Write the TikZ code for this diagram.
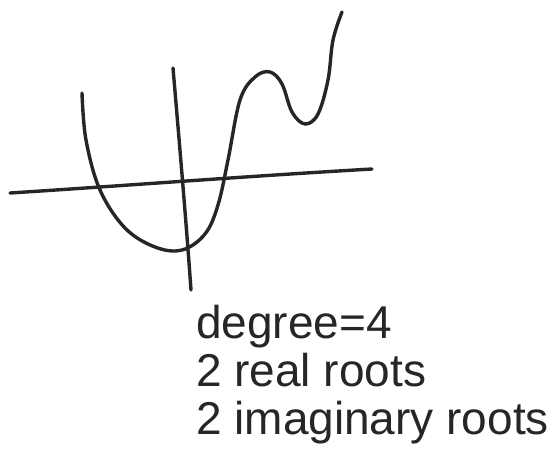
\documentclass[tikz,border=0pt]{standalone}
\usepackage{fontspec}
\setmainfont{Liberation Sans}
\begin{document}
\begin{tikzpicture}[x=1pt,y=-1pt,
  ink/.style={line width=3.4pt,line cap=round,line join=round,black!85},
  label/.style={anchor=base west,inner sep=0pt,font=\fontsize{46}{50}\selectfont,text=black!85}]
\useasboundingbox (0,0) rectangle (557,469);
% axes
\draw[ink] (10,193) .. controls (120,186) and (250,176) .. (372,169);
\draw[ink] (173,68) .. controls (180,150) and (186,220) .. (191,290);
% curve
\draw[ink] plot[smooth,tension=0.6] coordinates {
 (82,93) (86,140) (100,190) (125,228) (155,247) (182,250) (205,234) (218,205)
 (228,160) (240,100) (255,77) (270,72) (282,84) (292,112) (305,124) (318,114)
 (328,80) (333,40) (342,12)};
% text
\node[label] (deg) at (196,338) {degree=4};
\node[label] (real) at (196,386) {2 real roots};
\node[label] (imag) at (196,434) {2 imaginary roots};
\end{tikzpicture}
\end{document}
